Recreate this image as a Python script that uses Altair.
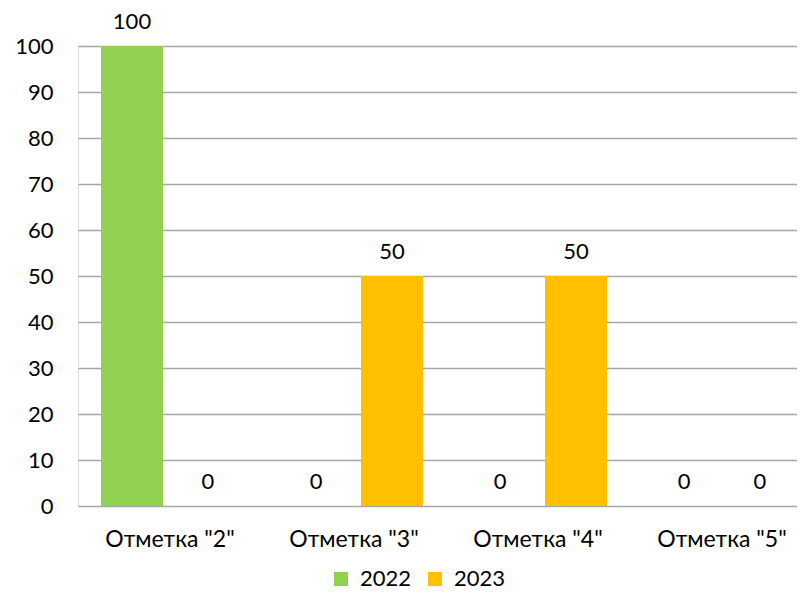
import altair as alt
import pandas as pd

categories = ['Отметка "2"', 'Отметка "3"', 'Отметка "4"', 'Отметка "5"']
years = ["2022", "2023"]
values_2022 = [100, 0, 0, 0]
values_2023 = [0, 50, 50, 0]
colors = ["#92D050", "#FFC000"]
y_ticks = [0, 10, 20, 30, 40, 50, 60, 70, 80, 90, 100]

rows = []
for c, a, b in zip(categories, values_2022, values_2023):
    rows.append({"cat": c, "year": years[0], "value": a})
    rows.append({"cat": c, "year": years[1], "value": b})
df = pd.DataFrame(rows)

FONT = "Lato"
FS = 22

x_enc = alt.X(
    "cat:N",
    sort=categories,
    title=None,
    scale=alt.Scale(range=[0, 736], paddingInner=0.174, paddingOuter=0.087),
    axis=alt.Axis(labelAngle=0, domain=False, ticks=False, labelPadding=22,
                  labelFontSize=23, labelColor="#000000", labelFont=FONT),
)
xo_enc = alt.XOffset(
    "year:N", sort=years,
    scale=alt.Scale(paddingInner=0.184, paddingOuter=0.092),
)
y_enc = alt.Y(
    "value:Q",
    title=None,
    scale=alt.Scale(domain=[0, 100], nice=False),
    axis=alt.Axis(values=y_ticks, domain=False, ticks=False, labelPadding=25,
                  gridColor="#A6A6A6", gridWidth=1.5, labelFontSize=FS,
                  labelColor="#000000", labelFont=FONT),
)

bars = alt.Chart(df).mark_bar().encode(
    x=x_enc,
    xOffset=xo_enc,
    y=y_enc,
    color=alt.Color(
        "year:N",
        sort=years,
        scale=alt.Scale(domain=years, range=colors),
        legend=alt.Legend(
            title=None, orient="none", legendX=252, legendY=522,
            direction="horizontal", symbolType="square", symbolSize=196,
            symbolStrokeWidth=0, labelFontSize=FS, labelFont=FONT,
            labelColor="#000000", labelOffset=8, columnPadding=12, padding=0,
        ),
    ),
)

labels = alt.Chart(df).mark_text(
    baseline="alphabetic", dy=-17, fontSize=FS, font=FONT, color="#000000"
).encode(
    x=alt.X("cat:N", sort=categories),
    xOffset=alt.XOffset("year:N", sort=years),
    y=alt.Y("value:Q"),
    text=alt.Text("value:Q"),
)

chart = alt.layer(bars, labels).properties(
    width=719,
    height=460,
    autosize=alt.AutoSizeParams(type="none"),
    padding={"left": 70, "top": 38, "right": 0, "bottom": 85},
).configure_view(stroke=None).configure(font=FONT)

chart.save("out.html", embed_options={"renderer": "svg", "actions": False})
